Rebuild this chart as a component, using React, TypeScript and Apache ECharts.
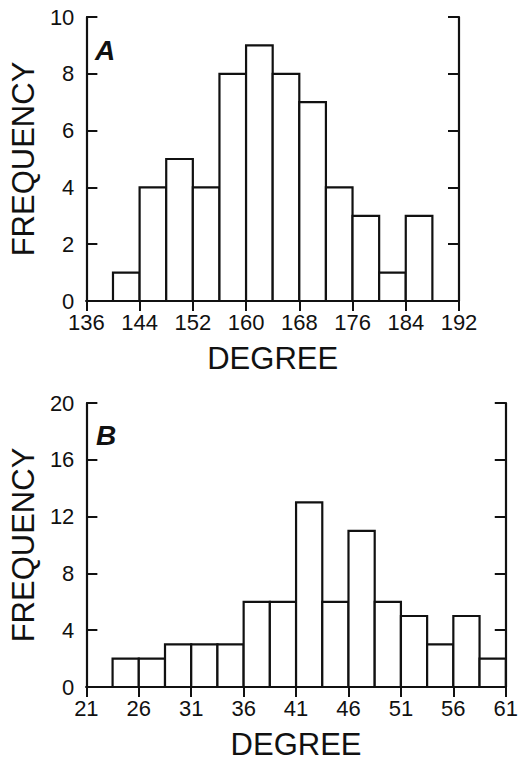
import React, { useEffect, useRef } from "react";
import * as echarts from "echarts";

// Panel A
const binStartA = [140, 144, 148, 152, 156, 160, 164, 168, 172, 176, 180, 184];
const binWidthA = 4;
const countsA = [1, 4, 5, 4, 8, 9, 8, 7, 4, 3, 1, 3];
const xTicksA = [136, 144, 152, 160, 168, 176, 184, 192];
const yTicksA = [0, 2, 4, 6, 8, 10];

// Panel B
const binStartB = [23.5, 26, 28.5, 31, 33.5, 36, 38.5, 41, 43.5, 46, 48.5, 51, 53.5, 56, 58.5];
const binWidthB = 2.5;
const countsB = [2, 2, 3, 3, 3, 6, 6, 13, 6, 11, 6, 5, 3, 5, 2];
const xTicksB = [21, 26, 31, 36, 41, 46, 51, 56, 61];
const yTicksB = [0, 4, 8, 12, 16, 20];

const FONT = "'Liberation Sans', Arial, Helvetica, sans-serif";
const INK = "#111";
const TICK_FONT = 22;

function histData(starts: number[], w: number, counts: number[]) {
  return starts.map((s, i) => [s, s + w, counts[i]]);
}

function renderBar(params: any, api: any) {
  const x0 = api.value(0);
  const x1 = api.value(1);
  const v = api.value(2);
  const p0 = api.coord([x0, v]);
  const p1 = api.coord([x1, 0]);
  return {
    type: "rect",
    shape: { x: p0[0], y: p0[1], width: p1[0] - p0[0], height: p1[1] - p0[1] },
    style: { fill: "#fff", stroke: INK, lineWidth: 2.2 },
  };
}

function xAxes(gridIndex: number, ticks: number[]) {
  const min = ticks[0];
  const max = ticks[ticks.length - 1];
  const common = {
    type: "value" as const,
    gridIndex,
    min,
    max,
    splitLine: { show: false },
    axisLine: { show: true, lineStyle: { color: INK, width: 2.2 } },
  };
  return [
    {
      ...common,
      position: "bottom",
      name: "DEGREE",
      nameLocation: "middle",
      nameGap: 42,
      nameTextStyle: { fontFamily: FONT, fontSize: 31, color: INK },
      axisTick: { show: false },
      axisLabel: {
        show: true,
        customValues: ticks,
        margin: 10,
        fontFamily: FONT,
        fontSize: TICK_FONT,
        color: INK,
        showMinLabel: true,
        showMaxLabel: true,
      },
    },
    {
      ...common,
      position: "top",
      axisTick: { show: true, inside: true, length: 10, customValues: ticks, lineStyle: { color: INK, width: 2 } },
      axisLabel: { show: false },
    },
  ];
}

function yAxes(gridIndex: number, ticks: number[]) {
  const min = ticks[0];
  const max = ticks[ticks.length - 1];
  const interval = ticks[1] - ticks[0];
  const common = {
    type: "value" as const,
    gridIndex,
    min,
    max,
    interval,
    splitLine: { show: false },
    axisLine: { show: true, lineStyle: { color: INK, width: 2.2 } },
    axisTick: { show: true, inside: true, length: 11, lineStyle: { color: INK, width: 2 } },
  };
  return [
    {
      ...common,
      position: "left",
      name: "FREQUENCY",
      nameLocation: "middle",
      nameRotate: 90,
      nameGap: 38,
      nameTextStyle: { fontFamily: FONT, fontSize: 31, color: INK },
      axisLabel: { show: true, margin: 12, fontFamily: FONT, fontSize: TICK_FONT, color: INK },
    },
    {
      ...common,
      position: "right",
      axisLabel: { show: false },
    },
  ];
}

export default function App() {
  const ref = useRef<HTMLDivElement>(null);
  useEffect(() => {
    if (!ref.current) return;
    const chart = echarts.init(ref.current, null, { renderer: "svg" });
    chart.setOption({
      animation: false,
      backgroundColor: "#fff",
      grid: [
        { left: 78, top: 17, width: 381, height: 284 },
        { left: 78, top: 403, width: 434, height: 284 },
      ],
      xAxis: [...xAxes(0, xTicksA), ...xAxes(1, xTicksB)],
      yAxis: [...yAxes(0, yTicksA), ...yAxes(1, yTicksB)],
      graphic: [
        {
          type: "text",
          left: 95,
          top: 36,
          style: { text: "A", font: `italic bold 28px ${FONT}`, fill: INK },
        },
        {
          type: "text",
          left: 96,
          top: 421,
          style: { text: "B", font: `italic bold 28px ${FONT}`, fill: INK },
        },
      ],
      series: [
        {
          type: "custom",
          xAxisIndex: 0,
          yAxisIndex: 0,
          renderItem: renderBar,
          encode: { x: [0, 1], y: 2 },
          data: histData(binStartA, binWidthA, countsA),
        },
        {
          type: "custom",
          xAxisIndex: 2,
          yAxisIndex: 2,
          renderItem: renderBar,
          encode: { x: [0, 1], y: 2 },
          data: histData(binStartB, binWidthB, countsB),
        },
      ],
    });
    return () => chart.dispose();
  }, []);
  return (
    <div
      ref={ref}
      style={{ position: "absolute", left: 0, top: 0, width: 521, height: 764, background: "#fff" }}
    />
  );
}
